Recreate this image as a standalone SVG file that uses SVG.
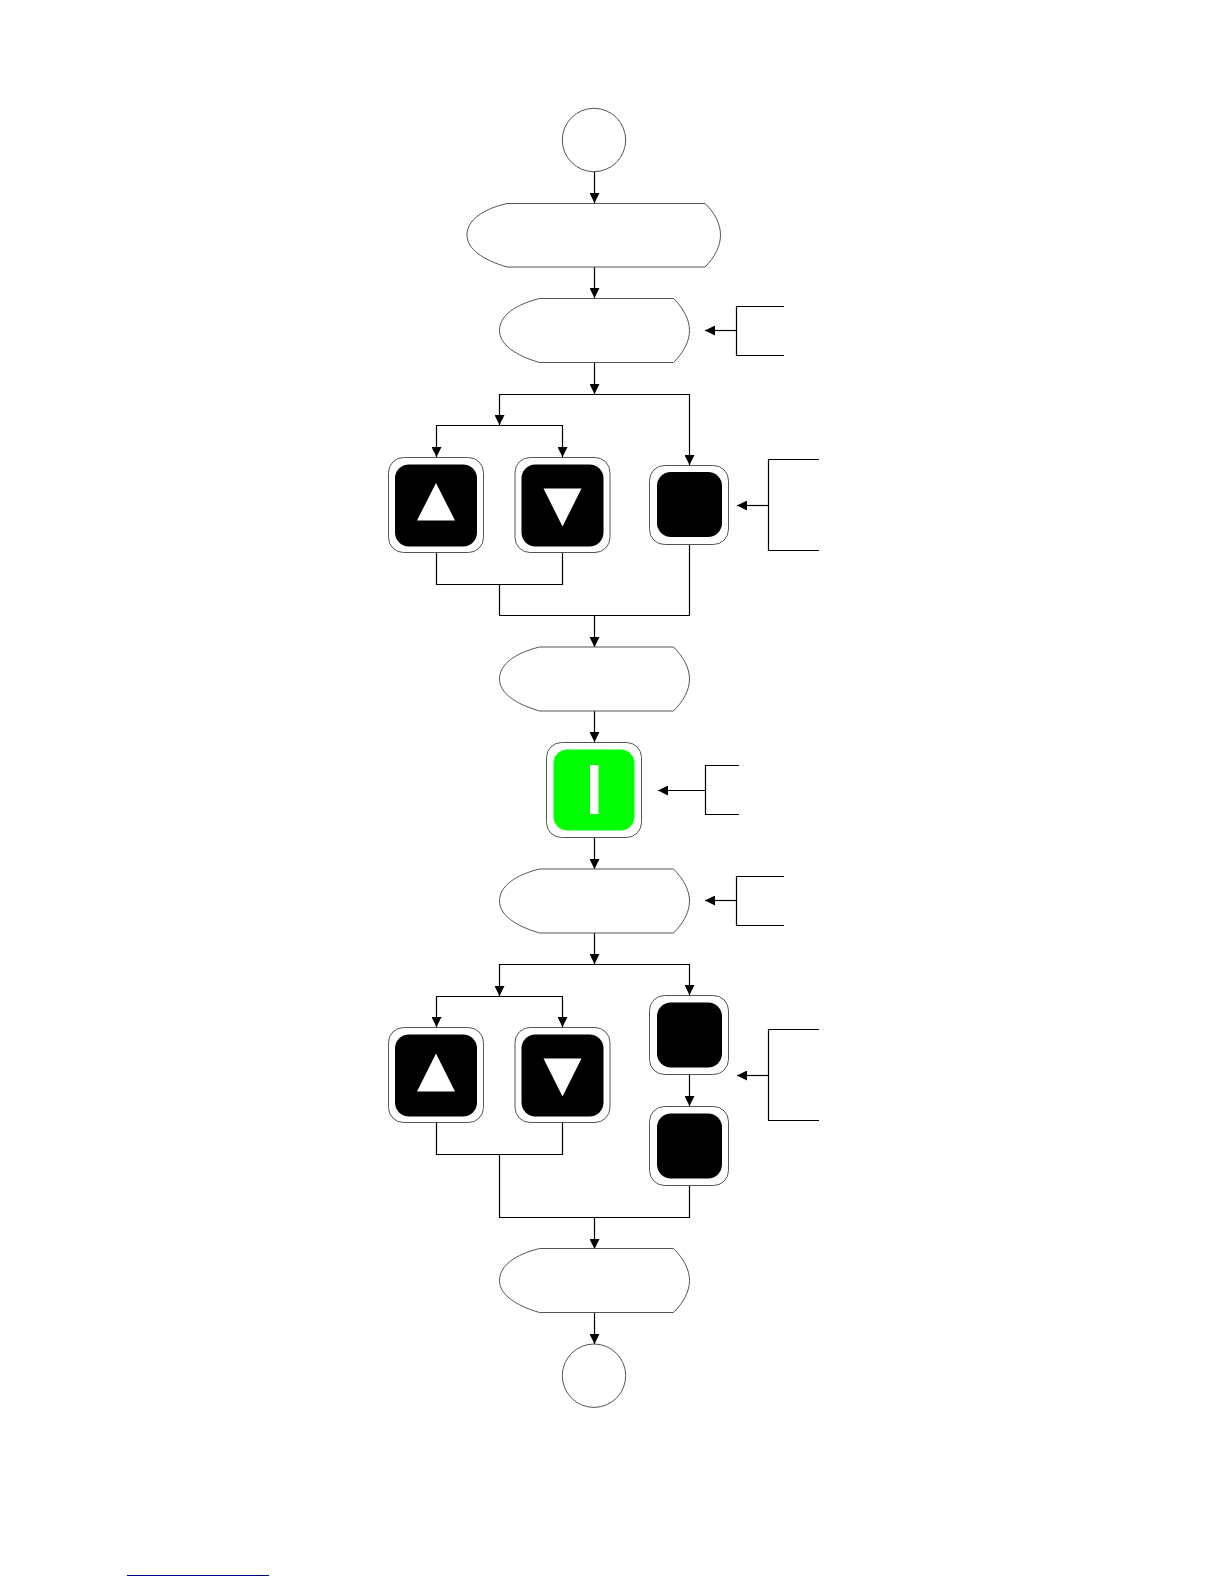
<svg xmlns="http://www.w3.org/2000/svg" width="1224" height="1584" viewBox="0 0 1224 1584">
<style>
.n{fill:#fff;stroke:#555;stroke-width:1}
.k{fill:#000}
.g{fill:#0f0}
.w{fill:#fff}
.c{fill:none;stroke:#000;stroke-width:1.2}
</style>
<defs>
<marker id="a" markerUnits="userSpaceOnUse" markerWidth="10" markerHeight="10" refX="10" refY="5" orient="auto"><path d="M0 0L10 5L0 10Z" fill="#000"/></marker>
<path id="disp" class="n" d="M40 0C16 6 0 17 0 32C0 46 16 57 40 64H174C184 54 190 43 190 32C190 21 184 10 174 0Z"/>
</defs>
<rect width="1224" height="1584" fill="#fff"/>
<g id="connectors" class="c">
<path marker-end="url(#a)" d="M594.5 172V203"/>
<path marker-end="url(#a)" d="M594.5 267V298"/>
<path marker-end="url(#a)" d="M594.5 362V394"/>
<path marker-end="url(#a)" d="M594.5 394.5H499.5V425"/>
<path marker-end="url(#a)" d="M594.5 394.5H689.5V465"/>
<path marker-end="url(#a)" d="M499.5 425.5H436.5V457"/>
<path marker-end="url(#a)" d="M499.5 425.5H562.5V457"/>
<path d="M436.5 552V584.5H562.5V552"/>
<path d="M499.5 584.5V615.5H689.5V544"/>
<path marker-end="url(#a)" d="M594.5 615.5V647"/>
<path marker-end="url(#a)" d="M594.5 710V742"/>
<path marker-end="url(#a)" d="M594.5 837V869"/>
<path marker-end="url(#a)" d="M594.5 932V964"/>
<path marker-end="url(#a)" d="M594.5 964.5H499.5V996"/>
<path marker-end="url(#a)" d="M594.5 964.5H689.5V995"/>
<path marker-end="url(#a)" d="M499.5 996.5H436.5V1027"/>
<path marker-end="url(#a)" d="M499.5 996.5H562.5V1027"/>
<path marker-end="url(#a)" d="M689.5 1075V1106"/>
<path d="M436.5 1122V1154.5H562.5V1122"/>
<path d="M499.5 1154.5V1217.5H689.5V1186"/>
<path marker-end="url(#a)" d="M594.5 1217.5V1249"/>
<path marker-end="url(#a)" d="M594.5 1312V1344"/>
<path d="M784 306.5H736.5V355.5H784"/>
<path marker-end="url(#a)" d="M736.5 330.5H705"/>
<path d="M819 459.5H768.5V550.5H819"/>
<path marker-end="url(#a)" d="M768.5 505.5H737"/>
<path d="M739 765.5H705.5V814.5H739"/>
<path marker-end="url(#a)" d="M705.5 790.5H658"/>
<path d="M784 876.5H736.5V925.5H784"/>
<path marker-end="url(#a)" d="M736.5 900.5H705"/>
<path d="M819 1029.5H768.5V1120.5H819"/>
<path marker-end="url(#a)" d="M768.5 1075.5H737"/>
</g>
<g id="start"><circle class="n" cx="594" cy="140" r="31.7"/></g>
<g id="display1"><path class="n" d="M507 203.5C483 209 467 220 467 235C467 249 483 260 507 267H705C715 257 720.5 246 720.5 235C720.5 224 715 213 705 203.5Z"/></g>
<g id="display2"><use href="#disp" x="499.5" y="298.5"/></g>
<g id="btn-up1"><rect class="n" x="388.5" y="457.5" width="95" height="95" rx="15"/><rect class="k" x="395" y="464.5" width="82" height="82" rx="14"/><path class="w" d="M436 483L455 520.5H417Z"/></g>
<g id="btn-down1"><rect class="n" x="515" y="457.5" width="95" height="95" rx="15"/><rect class="k" x="521.5" y="464.5" width="82" height="82" rx="14"/><path class="w" d="M543.5 488.5H581.5L562.5 526.5Z"/></g>
<g id="btn-right1"><rect class="n" x="649.5" y="465.5" width="79" height="79" rx="15"/><rect class="k" x="657" y="472" width="65" height="65" rx="14"/></g>
<g id="display3"><use href="#disp" x="499.5" y="647"/></g>
<g id="btn-green"><rect class="n" x="546.5" y="742.5" width="95" height="95" rx="15"/><rect class="g" x="553.5" y="749.5" width="81" height="81" rx="14"/><rect class="w" x="590" y="765" width="8.5" height="49"/></g>
<g id="display4"><use href="#disp" x="499.5" y="869"/></g>
<g id="btn-up2"><rect class="n" x="388.5" y="1027.5" width="95" height="95" rx="15"/><rect class="k" x="395" y="1034.5" width="82" height="82" rx="14"/><path class="w" d="M436 1053.5L455 1091.5H417Z"/></g>
<g id="btn-down2"><rect class="n" x="515" y="1027.5" width="95" height="95" rx="15"/><rect class="k" x="521.5" y="1034.5" width="82" height="82" rx="14"/><path class="w" d="M543.5 1058.5H581.5L562.5 1096.5Z"/></g>
<g id="btn-right2"><rect class="n" x="649.5" y="995.5" width="79" height="79" rx="15"/><rect class="k" x="657" y="1002.5" width="65" height="65" rx="14"/></g>
<g id="btn-right3"><rect class="n" x="649.5" y="1106.5" width="79" height="79" rx="15"/><rect class="k" x="657" y="1113.5" width="65" height="65" rx="14"/></g>
<g id="display5"><use href="#disp" x="499.5" y="1248.5"/></g>
<g id="end"><circle class="n" cx="594" cy="1375.7" r="31.7"/></g>
<rect id="link-rule" x="127" y="1575" width="142" height="1" fill="#00008b"/>
</svg>
